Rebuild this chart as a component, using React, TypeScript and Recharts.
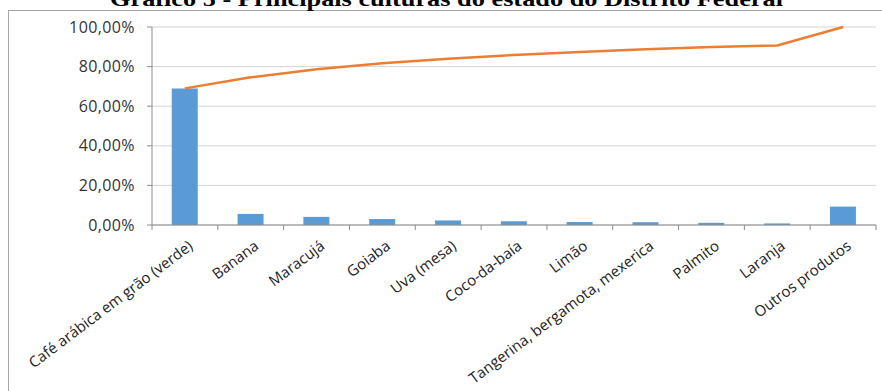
import { Bar, CartesianGrid, ComposedChart, Line, XAxis, YAxis } from 'recharts';

const CULTURAS = [
  'Café arábica em grão (verde)',
  'Banana',
  'Maracujá',
  'Goiaba',
  'Uva (mesa)',
  'Coco-da-baía',
  'Limão',
  'Tangerina, bergamota, mexerica',
  'Palmito',
  'Laranja',
  'Outros produtos',
];

/* participação de cada cultura (%) */
const PARTICIPACAO = [69.0, 5.6, 4.1, 3.0, 2.3, 1.9, 1.5, 1.4, 1.1, 0.8, 9.3];

/* participação acumulada (%) */
const ACUMULADO = [69.0, 74.6, 78.7, 81.7, 84.0, 85.9, 87.4, 88.8, 89.9, 90.7, 100];

const Y_TICKS = [0, 20, 40, 60, 80, 100];

const TITULO = 'Gráfico 5 - Principais culturas do estado do Distrito Federal';

const W = 882;
const H = 391;
const AXIS = '#8c8c8c';
const GRID = '#d4d4d4';
const FONT = '"Open Sans", Lato, sans-serif';

const data = CULTURAS.map((nome, i) => ({
  nome,
  valor: PARTICIPACAO[i],
  acumulado: ACUMULADO[i],
}));

const fmt = (v: number) => v.toFixed(2).replace('.', ',') + '%';

function XTick(props: any) {
  const { x, y, payload, index } = props;
  const half = payload?.offset ?? 33;
  return (
    <g>
      <line x1={x + half} x2={x + half} y1={y} y2={y + 5} stroke={AXIS} />
      {index === 0 && <line x1={x - half} x2={x - half} y1={y} y2={y + 5} stroke={AXIS} />}
      <text
        transform={`translate(${x + 9},${y + 23}) rotate(-37)`}
        textAnchor="end"
        fontSize={15}
        fontFamily={FONT}
        fill="#222"
      >
        {payload.value}
      </text>
    </g>
  );
}

export default function App() {
  return (
    <div style={{ position: 'absolute', left: 0, top: 0, width: W, height: H, overflow: 'hidden', background: '#fff' }}>
      <div
        style={{
          position: 'absolute',
          left: 8,
          top: 10,
          width: W + 20,
          height: H + 20,
          border: '1px solid #a6a6a6',
          boxSizing: 'border-box',
        }}
      />
      <svg width={W} height={20} style={{ position: 'absolute', left: 0, top: 0 }}>
        <text
          x={110}
          y={6}
          textLength={673}
          lengthAdjust="spacingAndGlyphs"
          fontSize={22}
          fontWeight="bold"
          fontFamily='"Liberation Serif", "Times New Roman", serif'
        >
          {TITULO}
        </text>
      </svg>
      <div style={{ position: 'absolute', left: 0, top: 0 }}>
        <ComposedChart
          width={W}
          height={H}
          data={data}
          margin={{ top: 27, right: 6, bottom: 0, left: 0 }}
          barCategoryGap="30%"
        >
          <CartesianGrid vertical={false} stroke={GRID} />
          <XAxis
            dataKey="nome"
            interval={0}
            tickLine={false}
            tickSize={0}
            tickMargin={0}
            axisLine={{ stroke: AXIS }}
            tick={<XTick />}
            height={166}
          />
          <YAxis
            width={152}
            domain={[0, 100]}
            ticks={Y_TICKS}
            tickFormatter={fmt}
            tickSize={5}
            tickMargin={12}
            tickLine={{ stroke: AXIS }}
            axisLine={{ stroke: AXIS }}
            tick={{ fontSize: 16, fontFamily: FONT, fill: '#333', letterSpacing: 0.4 }}
          />
          <Bar dataKey="valor" fill="#5b9bd5" isAnimationActive={false} />
          <Line
            dataKey="acumulado"
            stroke="#ed7d31"
            strokeWidth={2.5}
            dot={false}
            isAnimationActive={false}
          />
        </ComposedChart>
      </div>
    </div>
  );
}
